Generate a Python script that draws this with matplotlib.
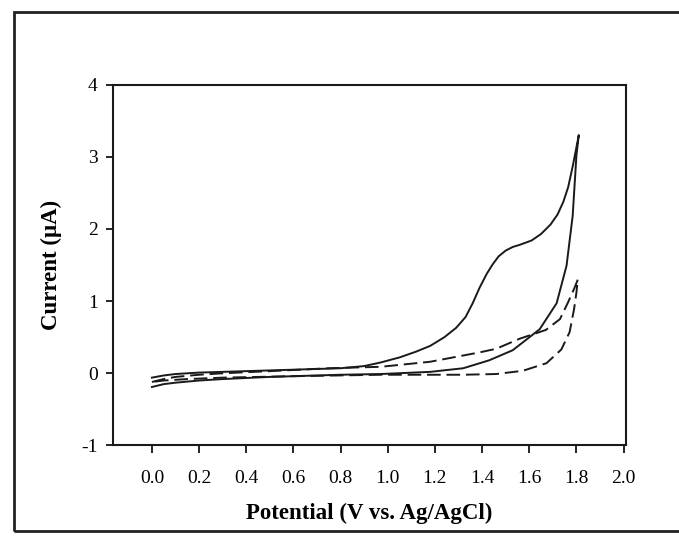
import matplotlib
matplotlib.use("Agg")
import matplotlib.pyplot as plt
from matplotlib.patches import Rectangle

plt.rcParams['font.family'] = ['Liberation Serif', 'DejaVu Serif']

# solid CV: forward scan then reverse scan
solid_fwd_x = [0.00, 0.05, 0.10, 0.20, 0.40, 0.60, 0.80, 0.90, 0.97, 1.05, 1.12, 1.18,
               1.24, 1.29, 1.33, 1.36, 1.39, 1.42, 1.445, 1.47, 1.50, 1.53, 1.56, 1.61,
               1.65, 1.69, 1.72, 1.745, 1.765, 1.785, 1.81]
solid_fwd_y = [-0.06, -0.03, -0.01, 0.01, 0.03, 0.05, 0.07, 0.10, 0.15, 0.22, 0.30, 0.38,
               0.50, 0.63, 0.78, 0.97, 1.19, 1.38, 1.51, 1.62, 1.70, 1.75, 1.78, 1.84,
               1.93, 2.06, 2.20, 2.38, 2.58, 2.88, 3.30]
solid_rev_x = [1.81, 1.80, 1.784, 1.758, 1.716, 1.644, 1.53, 1.43, 1.32, 1.18, 0.97,
               0.80, 0.50, 0.30, 0.20, 0.10, 0.05, 0.00]
solid_rev_y = [3.30, 3.02, 2.18, 1.49, 0.97, 0.61, 0.32, 0.18, 0.07, 0.02, -0.01,
               -0.02, -0.05, -0.08, -0.10, -0.13, -0.15, -0.19]

# dashed CV (blank)
dash_fwd_x = [0.00, 0.05, 0.10, 0.20, 0.30, 0.50, 0.75, 0.97, 1.18, 1.39, 1.46, 1.56,
              1.67, 1.73, 1.764, 1.79, 1.806]
dash_fwd_y = [-0.12, -0.08, -0.05, -0.02, 0.00, 0.03, 0.07, 0.09, 0.16, 0.29, 0.34, 0.48,
              0.60, 0.75, 0.98, 1.17, 1.30]
dash_rev_x = [1.806, 1.80, 1.79, 1.771, 1.736, 1.673, 1.573, 1.46, 1.32, 0.97, 0.60,
              0.30, 0.15, 0.05, 0.00]
dash_rev_y = [1.30, 1.12, 0.89, 0.57, 0.33, 0.14, 0.035, -0.01, -0.02, -0.02, -0.04,
              -0.06, -0.08, -0.10, -0.12]

x_ticks = [0.0, 0.2, 0.4, 0.6, 0.8, 1.0, 1.2, 1.4, 1.6, 1.8, 2.0]
y_ticks = [-1, 0, 1, 2, 3, 4]

fig = plt.figure(figsize=(6.79, 5.37), dpi=100)
ax = fig.add_axes([0.1664, 0.1704, 0.7555, 0.6722])

ax.plot(solid_fwd_x + solid_rev_x, solid_fwd_y + solid_rev_y, color='#1a1a1a', lw=1.4)
ax.plot(dash_fwd_x + dash_rev_x, dash_fwd_y + dash_rev_y, color='#1a1a1a', lw=1.4,
        linestyle=(0, (7, 3)))

ax.set_xlim(-0.165, 2.01)
ax.set_ylim(-1, 4)
ax.set_xticks(x_ticks)
ax.set_xticklabels([f"{v:.1f}" for v in x_ticks])
ax.set_yticks(y_ticks)
ax.set_yticklabels([str(v) for v in y_ticks])

for s in ax.spines.values():
    s.set_linewidth(1.5)
    s.set_color('#1a1a1a')
ax.tick_params(axis='x', direction='out', length=6, width=1.2, pad=12, labelsize=14)
ax.tick_params(axis='y', direction='out', length=5, width=1.2, pad=6, labelsize=14)

ax.set_xlabel("Potential (V vs. Ag/AgCl)", fontsize=16.5, fontweight='bold', labelpad=11)
ax.set_ylabel("Current (μA)", fontsize=16.5, fontweight='bold', labelpad=14)

# outer frame of the scanned figure
fig.patches.append(Rectangle((14 / 679, 6 / 537), 1.0, 1 - 18 / 537,
                             transform=fig.transFigure, fill=False,
                             edgecolor='#222222', linewidth=2.0))

fig.savefig("out.png", dpi=100)
